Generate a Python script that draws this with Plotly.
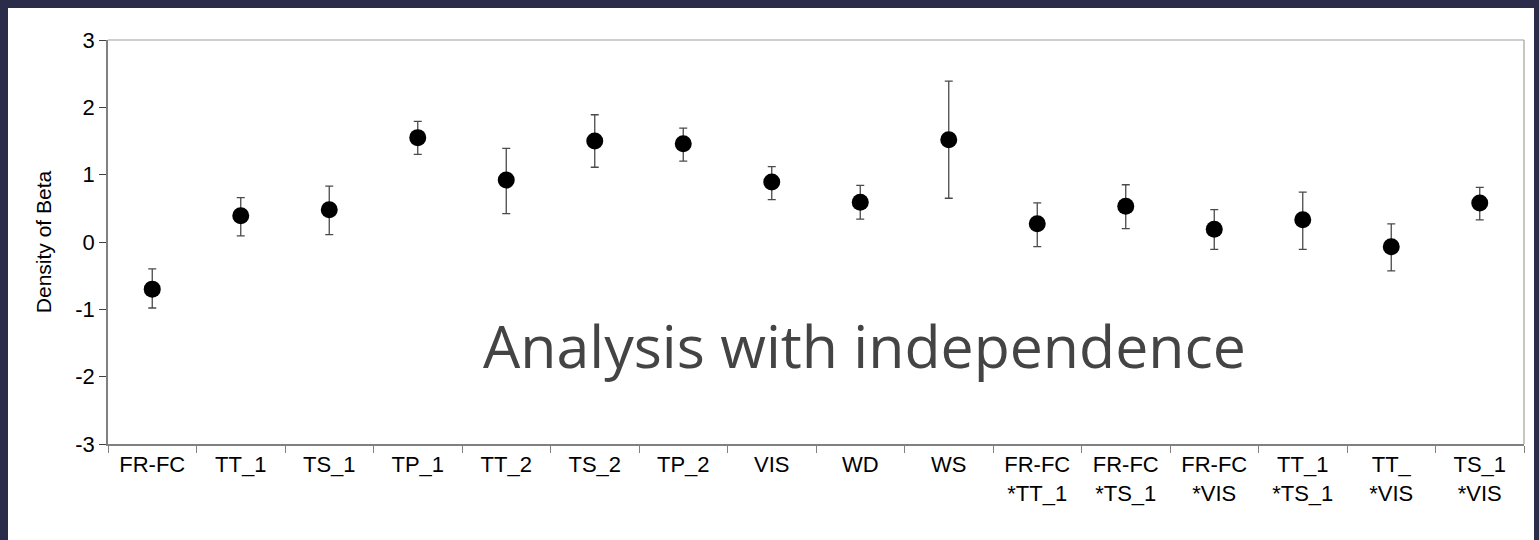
import plotly.graph_objects as go

# Coefficient estimates with their interval bounds
categories = ["FR-FC", "TT_1", "TS_1", "TP_1", "TT_2", "TS_2", "TP_2", "VIS", "WD", "WS",
              "FR-FC<br>*TT_1", "FR-FC<br>*TS_1", "FR-FC<br>*VIS", "TT_1<br>*TS_1",
              "TT_<br>*VIS", "TS_1<br>*VIS"]
beta = [-0.70, 0.39, 0.48, 1.55, 0.92, 1.50, 1.46, 0.89, 0.59, 1.52,
        0.27, 0.53, 0.19, 0.33, -0.07, 0.58]
upper = [-0.40, 0.66, 0.83, 1.79, 1.39, 1.89, 1.69, 1.12, 0.84, 2.39,
         0.58, 0.85, 0.48, 0.74, 0.27, 0.81]
lower = [-0.98, 0.09, 0.11, 1.30, 0.42, 1.11, 1.20, 0.63, 0.34, 0.65,
         -0.07, 0.20, -0.11, -0.11, -0.43, 0.33]
y_ticks = [-3, -2, -1, 0, 1, 2, 3]
y_tick_text = ["-3", "-2", "-1", "0", "1", "2", "3"]

err_plus = [u - b for u, b in zip(upper, beta)]
err_minus = [b - l for b, l in zip(beta, lower)]

fig = go.Figure()
fig.add_trace(go.Scatter(
    x=categories, y=beta, mode="markers",
    marker=dict(size=17, color="black"),
    error_y=dict(type="data", symmetric=False, array=err_plus, arrayminus=err_minus,
                 color="#4a4a4a", thickness=1.3, width=4),
    showlegend=False,
))

font_main = "Arial, Liberation Sans, sans-serif"
L, R, T, B = 108, 15, 40, 96
W, H = 1539, 540
pw, ph = W - L - R, H - T - B

def px_x(p):
    return (p - L) / pw

def px_y(p):
    return (H - B - p) / ph

# White slide panel inside the dark frame
fig.add_shape(type="rect", xref="paper", yref="paper",
              x0=px_x(8), x1=px_x(1534), y0=px_y(540), y1=px_y(8),
              fillcolor="white", line=dict(width=0), layer="below")
# Light border on top and right of the plot area
fig.add_shape(type="line", xref="paper", yref="paper", x0=0, x1=1, y0=1, y1=1,
              line=dict(color="#a0a0a0", width=1.2))
fig.add_shape(type="line", xref="paper", yref="paper", x0=1, x1=1, y0=0, y1=1,
              line=dict(color="#a0a0a0", width=1.2))

fig.add_annotation(text="Analysis with independence", xref="paper", yref="paper",
                   x=px_x(865), y=px_y(345), xanchor="center", yanchor="middle",
                   showarrow=False,
                   font=dict(family="Open Sans, Lato, sans-serif", size=59, color="#444444"))

fig.update_layout(
    width=W, height=H,
    margin=dict(l=L, r=R, t=T, b=B),
    paper_bgcolor="#2a2c4a",
    plot_bgcolor="white",
    font=dict(family=font_main, size=22, color="black"),
    xaxis=dict(
        type="category", tickson="boundaries", ticks="outside", ticklen=7,
        tickcolor="#808080", showline=True, linecolor="#808080", linewidth=1.5,
        showgrid=False, tickfont=dict(size=22), range=[-0.5, 15.5],
    ),
    yaxis=dict(
        range=[-3, 3], tickvals=y_ticks, ticktext=y_tick_text, ticks="outside", ticklen=7,
        tickcolor="#404040", showline=True, linecolor="#808080", linewidth=1.5,
        showgrid=False, zeroline=False, tickfont=dict(size=22),
        title=dict(text="Density of Beta", font=dict(size=21), standoff=18),
    ),
)

fig.write_html("out.html")
